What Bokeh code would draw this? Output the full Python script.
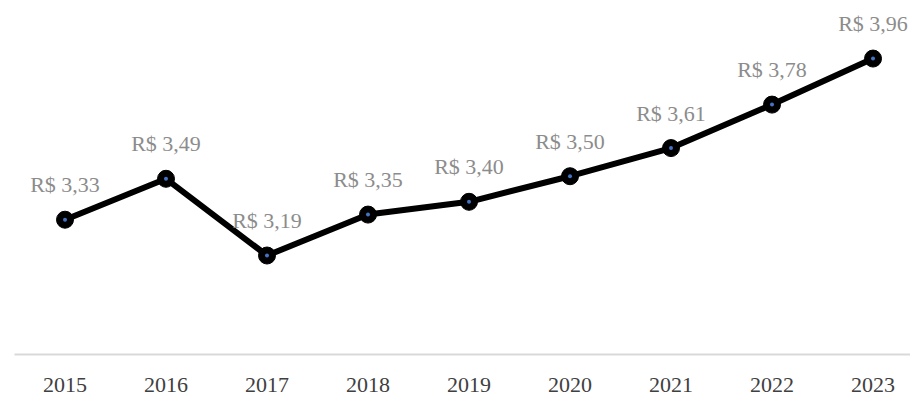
from bokeh.plotting import figure
from bokeh.models import ColumnDataSource, Range1d, FixedTicker
from bokeh.core.properties import value
from bokeh.embed import file_html
from bokeh.resources import INLINE

years = [2015, 2016, 2017, 2018, 2019, 2020, 2021, 2022, 2023]
prices = [3.33, 3.49, 3.19, 3.35, 3.40, 3.50, 3.61, 3.78, 3.96]
labels = ["R$ " + f"{v:.2f}".replace(".", ",") for v in prices]

src = ColumnDataSource(dict(x=years, y=prices, label=labels))

p = figure(width=910, height=398, output_backend="svg", toolbar_location=None,
           x_range=Range1d(2014.5, 2023.371), y_range=Range1d(2.803, 4.187),
           min_border_left=14, min_border_right=0, min_border_top=0, min_border_bottom=44)
p.outline_line_color = None
p.background_fill_color = "white"
p.border_fill_color = "white"
p.xgrid.visible = False
p.ygrid.visible = False
p.yaxis.visible = False

ax = p.xaxis[0]
ax.ticker = FixedTicker(ticks=years)
ax.axis_line_color = "#d9d9d9"
ax.axis_line_width = 2
ax.major_tick_line_color = None
ax.minor_tick_line_color = None
ax.major_label_text_font = "Liberation Serif"
ax.major_label_text_font_size = "22px"
ax.major_label_text_color = "#404040"
ax.major_label_standoff = 17

p.line("x", "y", source=src, line_color="black", line_width=6)
p.scatter("x", "y", source=src, size=17, fill_color="black", line_color="black")
p.scatter("x", "y", source=src, size=4, fill_color="#4472c4", line_color=None)
p.text("x", "y", text="label", source=src, text_align="center", text_baseline="middle",
       y_offset=-35, text_font=value("Liberation Serif"), text_font_size="22px",
       text_color="#8c8c8c")

open("out.html", "w").write(file_html(p, INLINE))
